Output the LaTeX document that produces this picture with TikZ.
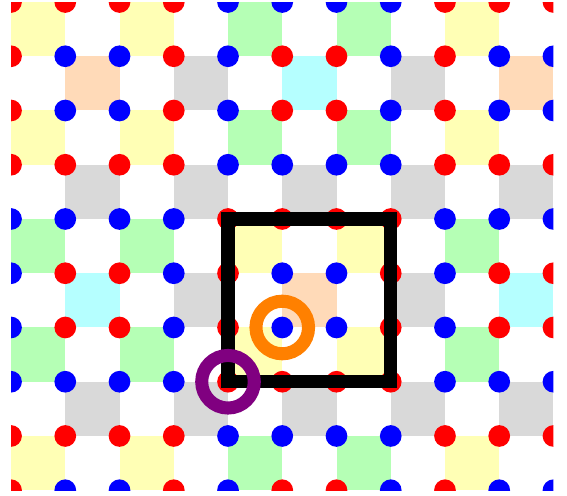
\documentclass[tikz,border=0pt]{standalone}
\definecolor{siteRed}{HTML}{FF0000}
\definecolor{siteBlue}{HTML}{0000FF}
\definecolor{cellYellow}{HTML}{FFFFB5}
\definecolor{cellGreen}{HTML}{B5FFB5}
\definecolor{cellGray}{HTML}{D9D9D9}
\definecolor{cellPeach}{HTML}{FFDAB8}
\definecolor{cellCyan}{HTML}{B5FFFF}
\definecolor{ringOrange}{HTML}{FF8000}
\definecolor{ringPurple}{HTML}{800080}
\tikzset{
  lattice diagram/.style={x=1cm,y=1cm, line join=miter},
  cell Y/.style={fill=cellYellow},
  cell G/.style={fill=cellGreen},
  cell K/.style={fill=cellGray},
  cell O/.style={fill=cellPeach},
  cell C/.style={fill=cellCyan},
  cell W/.style={fill=white},
  site R/.style={fill=siteRed},
  site B/.style={fill=siteBlue},
  unit cell/.style={draw=black, line width=0.24cm},
  site ring/.style={line width=0.24cm}
}
\newcommand{\LatticeRing}[2]{%
  \draw[site ring,draw=#1] (#2) circle[radius=0.485];
}

\begin{document}
\begin{tikzpicture}[lattice diagram]
    \useasboundingbox (-0.203,0.037) rectangle (10.249,-9.106);
    \begin{scope}
      \clip (0,0) rectangle (10,-9);
      % coloured cells, one list per row
      \foreach \cells [count=\r from 0] in {
          {Y,W,Y,W,G,W,G,W,Y,W},
          {W,O,W,K,W,C,W,K,W,O},
          {Y,W,Y,W,G,W,G,W,Y,W},
          {W,K,W,K,W,K,W,K,W,K},
          {G,W,G,W,Y,W,Y,W,G,W},
          {W,C,W,K,W,O,W,K,W,C},
          {G,W,G,W,Y,W,Y,W,G,W},
          {W,K,W,K,W,K,W,K,W,K},
          {Y,W,Y,W,G,W,G,W,Y,W}}
        \foreach \k [count=\c from 0] in \cells
          \fill[cell \k] (\c,-\r) rectangle ++(1,-1);
      % sites
      \foreach \sites [count=\j from 0] in {
          {R,R,R,R,B,B,B,B,R,R,R},
          {R,B,B,R,B,R,R,B,R,B,B},
          {R,B,B,R,B,R,R,B,R,B,B},
          {R,R,R,R,B,B,B,B,R,R,R},
          {B,B,B,B,R,R,R,R,B,B,B},
          {B,R,R,B,R,B,B,R,B,R,R},
          {B,R,R,B,R,B,B,R,B,R,R},
          {B,B,B,B,R,R,R,R,B,B,B},
          {R,R,R,R,B,B,B,B,R,R,R},
          {R,B,B,R,B,R,R,B,R,B,B}}
        \foreach \s [count=\i from 0] in \sites
          \fill[site \s] (\i,-\j) circle[radius=0.2];
    \end{scope}
    \coordinate (corner nw) at (4,-4);
    \coordinate (corner se) at (7,-7);
    \coordinate (orange site) at (5,-6);
    \coordinate (purple site) at (4,-7);
    \draw[unit cell] (corner nw) rectangle (corner se);
    \LatticeRing{ringOrange}{orange site}
    \LatticeRing{ringPurple}{purple site}
\end{tikzpicture}
\end{document}
